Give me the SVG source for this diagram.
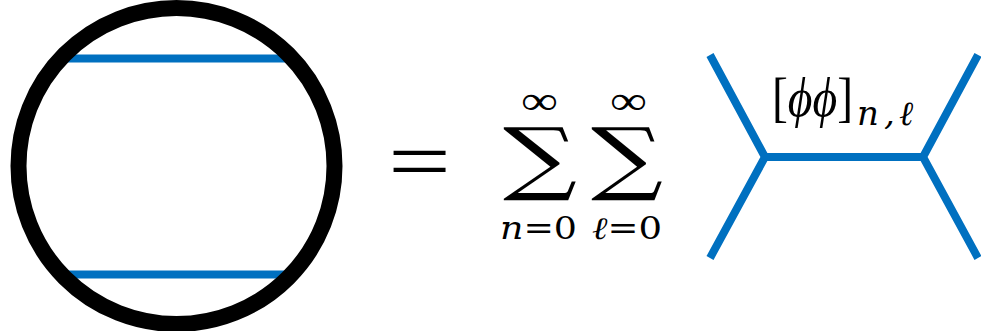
<svg xmlns="http://www.w3.org/2000/svg" width="981" height="331" viewBox="0 0 981 331">
<style>
.blue{stroke:#0070C0;stroke-width:8;fill:none}
.sig{font-family:"DejaVu Serif","Liberation Serif",serif;fill:#000}
.rm{font-family:"Liberation Serif","DejaVu Serif",serif;font-style:normal;fill:#000}
.sub{font-family:"DejaVu Serif","Liberation Serif",serif;font-style:normal;fill:#000}
.it{font-style:italic}
</style>
<rect width="981" height="331" fill="#fff"/>
<g id="loop">
<line class="blue" x1="60" y1="58.5" x2="293" y2="58.5"/>
<line class="blue" x1="60" y1="274.5" x2="293" y2="274.5"/>
<circle cx="176.5" cy="166" r="158" fill="none" stroke="#000" stroke-width="16"/>
</g>
<g id="equals">
<text class="rm" x="388" y="189.5" font-size="84" textLength="63" lengthAdjust="spacingAndGlyphs">=</text>
</g>
<g id="sum-n">
<text class="sig"><tspan class="rm" x="521" y="114" font-size="40" textLength="37" lengthAdjust="spacingAndGlyphs">∞</tspan><tspan x="503" y="185" font-size="80" textLength="74" lengthAdjust="spacingAndGlyphs">∑</tspan></text>
</g>
<g id="sum-l">
<text class="sig"><tspan class="rm" x="610" y="114" font-size="40" textLength="37" lengthAdjust="spacingAndGlyphs">∞</tspan><tspan x="591" y="185" font-size="80" textLength="72" lengthAdjust="spacingAndGlyphs">∑</tspan></text>
</g>
<g id="limits">
<text class="sub" x="500" y="239" font-size="31" textLength="77" lengthAdjust="spacingAndGlyphs"><tspan class="it">n</tspan>=0</text>
<text class="sub" x="592" y="239" font-size="31" textLength="70" lengthAdjust="spacingAndGlyphs"><tspan class="it">ℓ</tspan>=0</text>
</g>
<g id="exchange">
<polyline class="blue" points="710,55 765,157 710,258"/>
<polyline class="blue" points="978,55 923,157 978,258"/>
<line class="blue" x1="765" y1="157" x2="923" y2="157"/>
<text class="rm"><tspan x="772" y="116" font-size="54" textLength="81" lengthAdjust="spacingAndGlyphs">[<tspan class="it">ϕϕ</tspan>]</tspan><tspan class="sub it" font-size="34" x="857" y="125">n</tspan><tspan class="sub it" font-size="34" x="884" y="125">,</tspan><tspan class="sub it" font-size="34" x="899" y="125">ℓ</tspan></text>
</g>
</svg>
